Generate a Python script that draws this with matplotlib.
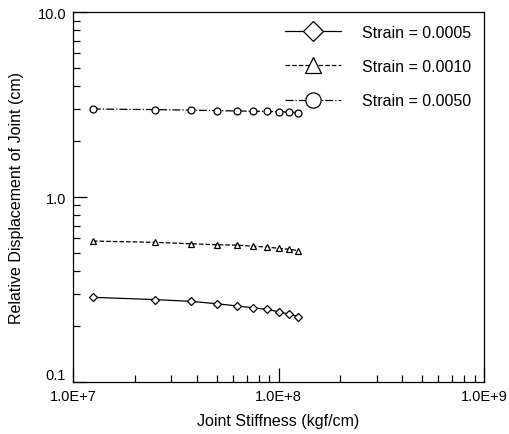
import matplotlib
matplotlib.use("Agg")
import matplotlib.pyplot as plt
from matplotlib.ticker import FixedLocator, LogLocator, NullFormatter, FixedFormatter

plt.rcParams['font.family'] = ['Liberation Sans', 'DejaVu Sans']

stiffness = [1.25e7, 2.5e7, 3.75e7, 5.0e7, 6.25e7, 7.5e7, 8.75e7, 1.0e8, 1.125e8, 1.25e8]
disp_0005 = [0.287, 0.279, 0.273, 0.265, 0.258, 0.252, 0.247, 0.240, 0.233, 0.226]
disp_0010 = [0.578, 0.569, 0.559, 0.552, 0.550, 0.542, 0.537, 0.528, 0.522, 0.513]
disp_0050 = [2.99, 2.97, 2.95, 2.93, 2.92, 2.91, 2.90, 2.89, 2.88, 2.85]
labels = ['Strain = 0.0005', 'Strain = 0.0010', 'Strain = 0.0050']
xticks = [1e7, 1e8, 1e9]
xticklabels = ['1.0E+7', '1.0E+8', '1.0E+9']
yticks = [0.1, 1.0, 10.0]
yticklabels = ['0.1', '1.0', '10.0']

fig = plt.figure(figsize=(5.09, 4.35), dpi=100)
ax = fig.add_axes([0.1434, 0.1195, 0.8076, 0.8505])

kw = dict(color='black', lw=0.9, mfc='white', mec='black', mew=0.9)
ax.plot(stiffness, disp_0005, ls='-', marker='D', ms=4.5, label=labels[0], **kw)
ax.plot(stiffness, disp_0010, ls='--', marker='^', ms=5, label=labels[1], **kw)
ax.plot(stiffness, disp_0050, ls='-.', marker='o', ms=5, label=labels[2], **kw)

ax.set_xscale('log')
ax.set_yscale('log')
ax.set_xlim(1e7, 1e9)
ax.set_ylim(0.1, 10.0)
ax.xaxis.set_major_locator(FixedLocator(xticks))
ax.xaxis.set_major_formatter(FixedFormatter(xticklabels))
ax.yaxis.set_major_locator(FixedLocator(yticks))
ax.yaxis.set_major_formatter(FixedFormatter(yticklabels))
ax.xaxis.set_minor_locator(LogLocator(base=10, subs=range(2, 10)))
ax.yaxis.set_minor_locator(LogLocator(base=10, subs=range(2, 10)))
ax.xaxis.set_minor_formatter(NullFormatter())
ax.yaxis.set_minor_formatter(NullFormatter())
ax.tick_params(which='major', direction='in', length=10, width=0.9, labelsize=10.5)
ax.tick_params(which='minor', direction='in', length=5, width=0.9)
ax.tick_params(axis='x', which='both', top=False, pad=5)
ax.tick_params(axis='y', which='both', right=False, pad=5)
for s in ax.spines.values():
    s.set_linewidth(0.9)

# lift the lowest y label slightly, as in the reference
for lbl in ax.get_yticklabels():
    if lbl.get_text() == '0.1':
        lbl.set_verticalalignment('bottom')

ax.set_xlabel('Joint Stiffness (kgf/cm)', fontsize=11.5, labelpad=7)
ax.set_ylabel('Relative Displacement of Joint (cm)', fontsize=11.5, labelpad=10)

leg = ax.legend(loc='upper right', frameon=False, markerscale=2.2, handlelength=3.5,
                fontsize=11.5, labelspacing=1.2, handletextpad=1.3, borderaxespad=0.4)

fig.savefig('out.png', dpi=100)
